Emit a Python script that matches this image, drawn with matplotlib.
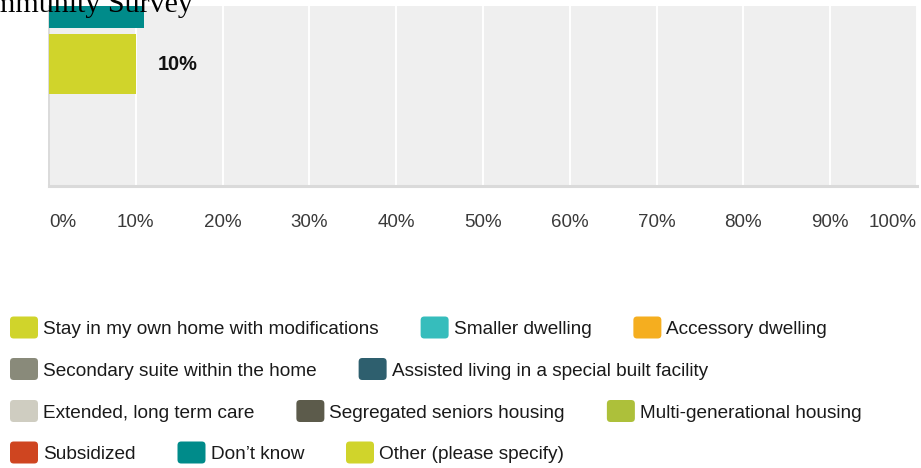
import matplotlib
matplotlib.use("Agg")
import matplotlib.pyplot as plt
from matplotlib.patches import FancyBboxPatch

plt.rcParams["font.family"] = ["Liberation Sans", "DejaVu Sans"]

W, H = 921, 468

# данные
bar_labels = ["Don’t know", "Other (please specify)"]
bar_values = [11, 10]
bar_colors = ["#008b8a", "#d0d42b"]
x_ticks = [0, 10, 20, 30, 40, 50, 60, 70, 80, 90, 100]
x_tick_labels = [f"{t}%" for t in x_ticks]
title = "Community Survey"

legend_rows = [
    ["Stay in my own home with modifications", "Smaller dwelling", "Accessory dwelling"],
    ["Secondary suite within the home", "Assisted living in a special built facility"],
    ["Extended, long term care", "Segregated seniors housing", "Multi-generational housing"],
    ["Subsidized", "Don’t know", "Other (please specify)"],
]
legend_colors = {
    "Stay in my own home with modifications": "#d0d42b",
    "Smaller dwelling": "#36bdbc",
    "Accessory dwelling": "#f5ae1f",
    "Secondary suite within the home": "#898a7a",
    "Assisted living in a special built facility": "#2e5f6e",
    "Extended, long term care": "#cfcdc1",
    "Segregated seniors housing": "#5c5b4b",
    "Multi-generational housing": "#adc03a",
    "Subsidized": "#cf4520",
    "Don’t know": "#008b8a",
    "Other (please specify)": "#d0d42b",
}


def px(x, y):
    # пиксели (от левого верхнего угла) -> доли фигуры
    return x / W, 1 - y / H


fig = plt.figure(figsize=(W / 100, H / 100), dpi=100)
ax = fig.add_axes([49 / W, 1 - 186 / H, (917 - 49) / W, 180 / H])
ax.set_facecolor("#efefef")

y_pos = list(range(len(bar_values)))[::-1]
bars = ax.barh(y_pos, bar_values, height=0.909, color=bar_colors, zorder=3)
ax.set_ylim(-1.848, 0.879)
ax.set_xlim(0, 100)

ymin, ymax = ax.get_ylim()
for y, v in zip(y_pos, bar_values):
    if ymin < y < ymax:
        ax.annotate(f"{v}%", (v, y), xytext=(16, 0), textcoords="offset points",
                    ha="left", va="center", fontsize=14.4, fontweight="bold",
                    color="#111111", zorder=4)

ax.set_xticks(x_ticks)
ax.set_xticklabels(x_tick_labels, fontsize=13.5, color="#3a3a3a")
ax.tick_params(axis="x", length=0, pad=20)
labels = ax.get_xticklabels()
labels[0].set_ha("left")
labels[-1].set_ha("right")
ax.set_yticks([])
ax.grid(axis="x", color="white", linewidth=1.4, zorder=1)
ax.set_axisbelow(True)
for s in ["top", "right"]:
    ax.spines[s].set_visible(False)
ax.spines["left"].set_color("#d4d4d4")
ax.spines["left"].set_linewidth(1.2)
ax.spines["bottom"].set_color("#dadada")
ax.spines["bottom"].set_linewidth(2.2)

# заголовок обрезан сверху, как на скриншоте
fig.text(*px(193, 11.5), title, ha="right", va="baseline",
         family=["Liberation Serif", "DejaVu Serif"], fontsize=21.6, color="black")

# легенда
fig.canvas.draw()
renderer = fig.canvas.get_renderer()
row_y = [327.5, 369, 411, 452.5]
for row, yc in zip(legend_rows, row_y):
    x = 10
    for name in row:
        fx, fy = px(x, yc + 11)
        fw, fh = 28 / W, 22 / H
        box = FancyBboxPatch((fx, fy), fw, fh, boxstyle="round,pad=0,rounding_size=0.004",
                             transform=fig.transFigure, facecolor=legend_colors[name],
                             edgecolor="none", mutation_aspect=W / H)
        fig.patches.append(box)
        t = fig.text(*px(x + 33, yc), name, ha="left", va="center_baseline",
                     fontsize=13.7, color="#1a1a1a")
        w = t.get_window_extent(renderer).width
        x = x + 33 + w + 42

fig.savefig("out.png", dpi=100)
